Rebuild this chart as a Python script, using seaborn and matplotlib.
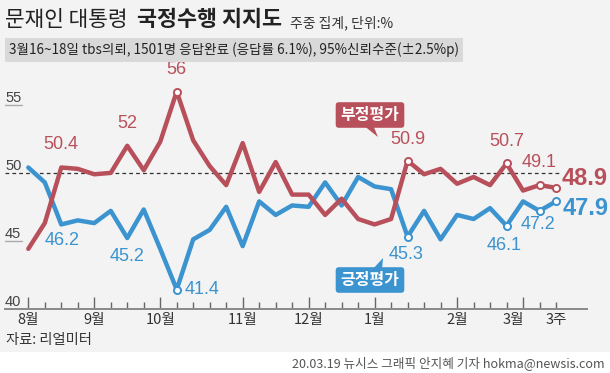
import matplotlib
matplotlib.use("Agg")
import matplotlib.pyplot as plt
import seaborn as sns
import pandas as pd
from matplotlib.patches import Rectangle, Polygon

# ---------------- data ----------------
weeks = list(range(33))
negative = [44.4, 46.3, 50.4, 50.3, 49.9, 50.0, 52.0, 50.2, 52.3, 56.0, 52.4,
            50.5, 49.1, 52.2, 48.6, 50.8, 48.4, 48.4, 46.9, 48.1, 46.6, 46.2,
            46.6, 50.9, 49.9, 50.3, 49.2, 49.7, 49.1, 50.7, 48.7, 49.1, 48.9]
positive = [50.4, 49.3, 46.2, 46.5, 46.3, 47.2, 45.2, 47.3, 44.4, 41.4, 45.1,
            45.8, 47.5, 44.6, 47.9, 46.9, 47.6, 47.5, 49.3, 47.6, 49.7, 49.0,
            48.8, 45.3, 47.2, 45.1, 46.9, 46.6, 47.4, 46.1, 47.9, 47.2, 47.9]
month_labels = ["8월", "9월", "10월", "11월", "12월", "1월", "2월", "3월", "3주"]
month_label_pos = [0, 4, 8, 13, 17, 21, 26, 29.4, 32]
month_ticks = [0, 4, 8, 13, 17, 21, 26, 30]
y_labels = [40, 45, 50, 55]
marker_idx = [9, 23, 29, 31, 32]
neg_labels = {2: "50.4", 6: "52", 9: "56", 23: "50.9", 29: "50.7", 31: "49.1"}
pos_labels = {2: "46.2", 6: "45.2", 23: "45.3", 29: "46.1", 31: "47.2"}
last_neg_label = "48.9"
last_pos_label = "47.9"

# ---------------- style ----------------
RED = "#b8505b"
BLUE = "#3b93cf"
BG = "#f3f3f3"
sns.set_theme(style="white")
plt.rcParams["font.family"] = ["Noto Sans CJK KR", "DejaVu Sans"]
NUM = ["Liberation Sans Narrow", "Liberation Sans", "DejaVu Sans"]

W, H = 610, 373
fig = plt.figure(figsize=(W / 100, H / 100), dpi=100, facecolor=BG)


def fx(px):
    return px / W


def fy(py):
    return 1 - py / H


def fit(txt, target_px):
    """Scale a text's font size so its rendered width matches target_px."""
    r = fig.canvas.get_renderer()
    for _ in range(2):
        w = txt.get_window_extent(renderer=r).width
        if w > 0:
            txt.set_fontsize(txt.get_fontsize() * target_px / w)
    return txt


# axes: x from px 5..587, y from px 70..308.5
ax = fig.add_axes([fx(5), fy(308.5), fx(582), (308.5 - 70) / H])
ax.set_facecolor("none")

df = pd.DataFrame({
    "week": weeks * 2,
    "value": positive + negative,
    "series": ["긍정평가"] * len(weeks) + ["부정평가"] * len(weeks),
})
sns.lineplot(data=df, x="week", y="value", hue="series",
             hue_order=["긍정평가", "부정평가"], palette=[BLUE, RED],
             linewidth=3.2, legend=False, ax=ax)

mk = df[df["week"].isin(marker_idx)]
for ser, col in [("긍정평가", BLUE), ("부정평가", RED)]:
    sub = mk[mk["series"] == ser]
    ax.scatter(sub["week"], sub["value"], s=26, facecolor="white",
               edgecolor=col, linewidth=1.4, zorder=5)

ax.set_xlim(-1.413, 33.88)
ax.set_ylim(40, 57.59)
ax.set_xlabel("")
ax.set_ylabel("")
for s in ["top", "right", "left"]:
    ax.spines[s].set_visible(False)
ax.spines["bottom"].set_color("#8a8a8a")
ax.spines["bottom"].set_linewidth(1.4)
ax.set_yticks([])
ax.set_xticks(month_ticks)
ax.set_xticks(weeks, minor=True)
ax.tick_params(axis="x", which="major", direction="in", length=9, width=1,
               color="#666", labelbottom=False, bottom=True)
ax.tick_params(axis="x", which="minor", direction="in", length=5, width=1,
               color="#666", bottom=True)

# reference line at 50
ax.axhline(50, xmin=0, xmax=(560 - 5) / 582, color="#333", lw=0.9,
           dashes=(3, 2.5), zorder=1)

# y labels with short underlines
ytr = ax.get_yaxis_transform()
for v in y_labels:
    ax.text(0.0, v, str(v), transform=ytr, ha="left", va="bottom",
            fontsize=10.5, color="#444", family=NUM)
    if v in (45, 55):
        ax.plot([0, 17 / 582], [v, v], transform=ytr, color="#aaa", lw=1)

# month labels
xtr = ax.get_xaxis_transform()
for lab, pos in zip(month_labels, month_label_pos):
    ax.text(pos, -0.048, lab, transform=xtr, ha="center", va="center",
            fontsize=10.5, color="#333")

# value labels
for i, lab in neg_labels.items():
    dy = 13 if i in (23, 29) else 14
    ax.annotate(lab, (i, negative[i]), xytext=(0, dy), textcoords="offset pixels",
                ha="center", va="bottom", fontsize=13, color=RED, family=NUM)
pos_off = {2: (1, -8), 6: (0, -10), 23: (-2, -9), 29: (-2, -11), 31: (-2, -5)}
for i, lab in pos_labels.items():
    ox, oy = pos_off[i]
    ax.annotate(lab, (i, positive[i]), xytext=(ox, oy), textcoords="offset pixels",
                ha="center", va="top", fontsize=13, color=BLUE, family=NUM)
ax.annotate("41.4", (9, positive[9]), xytext=(8, 0), textcoords="offset pixels",
            ha="left", va="center", fontsize=13, color=BLUE, family=NUM)
ax.annotate(last_neg_label, (32, negative[32]), xytext=(6, 9),
            textcoords="offset pixels", ha="left", va="center", fontsize=17,
            fontweight="bold", color=RED, family=NUM)
ax.annotate(last_pos_label, (32, positive[32]), xytext=(7, -7),
            textcoords="offset pixels", ha="left", va="center", fontsize=17,
            fontweight="bold", color=BLUE, family=NUM)

# series tags
fig.text(fx(370), fy(115), "부정평가", ha="center", va="center", fontsize=11.5,
         fontweight="bold", color="white",
         bbox=dict(boxstyle="round,pad=0.3,rounding_size=0.2", fc=RED, ec="none"))
fig.add_artist(Polygon([(fx(363), fy(125)), (fx(373), fy(125)), (fx(378), fy(137))],
                       closed=True, transform=fig.transFigure, fc=RED, ec="none"))
fig.text(fx(370), fy(280), "긍정평가", ha="center", va="center", fontsize=11.5,
         fontweight="bold", color="white",
         bbox=dict(boxstyle="round,pad=0.3,rounding_size=0.2", fc=BLUE, ec="none"))
fig.add_artist(Polygon([(fx(372), fy(270)), (fx(382), fy(270)), (fx(383), fy(258))],
                       closed=True, transform=fig.transFigure, fc=BLUE, ec="none"))

# title block
t1 = fig.text(fx(5), fy(20), "문재인 대통령", ha="left", va="center", fontsize=14,
              color="#222")
t2 = fig.text(fx(137), fy(20), "국정수행 지지도", ha="left", va="center", fontsize=14,
              fontweight="bold", color="#222")
t3 = fig.text(fx(290), fy(23), "주중 집계, 단위:%", ha="left", va="center", fontsize=10,
              color="#333")
fig.add_artist(Rectangle((fx(5), fy(62)), fx(458), 24 / H, transform=fig.transFigure,
                         fc="#d9d9d9", ec="none"))
t4 = fig.text(fx(9), fy(50), "3월16~18일 tbs의뢰, 1501명 응답완료 (응답률 6.1%), 95%신뢰수준(±2.5%p)",
              ha="left", va="center", fontsize=9, color="#222")

# footer
t5 = fig.text(fx(6), fy(340), "자료: 리얼미터", ha="left", va="center", fontsize=9.5,
              color="#333")
fig.add_artist(Rectangle((0, 0), 1, 21 / H, transform=fig.transFigure,
                         fc="white", ec="none"))
t6 = fig.text(fx(605), fy(363), "20.03.19 뉴시스 그래픽 안지혜 기자 hokma@newsis.com",
              ha="right", va="center", fontsize=9, color="#555")

fig.canvas.draw()
fit(t1, 123)
fit(t2, 145)
fit(t3, 103)
fit(t4, 449)
fit(t5, 86)
fit(t6, 311)

fig.savefig("out.png", dpi=100, facecolor=BG)
